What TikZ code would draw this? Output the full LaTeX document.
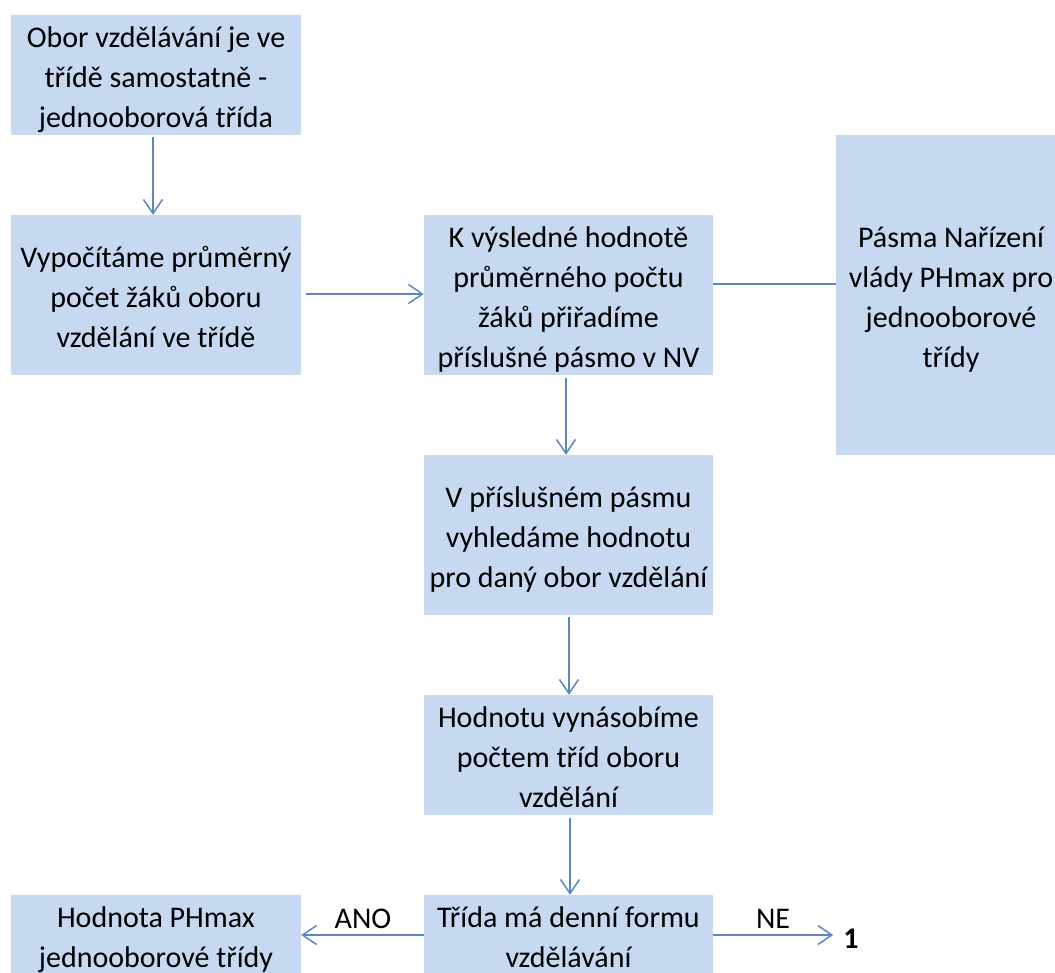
\documentclass[tikz,border=0pt]{standalone}
\usepackage{fontspec}
\setmainfont{Carlito}
\usetikzlibrary{arrows.meta}
\definecolor{boxfill}{HTML}{C6D9F1}
\definecolor{arrowc}{HTML}{5B87C5}
\newcommand\ls{\rule[-8pt]{0pt}{40pt}}
\begin{document}
\begin{tikzpicture}[x=1pt,y=-1pt,
  box/.style={fill=boxfill, draw=none, inner sep=0pt, align=center,
    font=\fontsize{30}{40}\selectfont, text=black},
  lbl/.style={inner sep=0pt, font=\fontsize{30}{40}\selectfont, text=black},
  conn/.style={draw=arrowc, line width=1.5pt},
  arr/.style={conn, -{Straight Barb[length=14pt,width=19pt]}}
]
\useasboundingbox (0,0) rectangle (1055,972);
\clip (0,0) rectangle (1055,972);

\node[box, minimum width=290pt, minimum height=120pt] (b1) at (156,75)
  {\ls Obor vzdělávání je ve\\ třídě samostatně -\\ jednooborová třída\ls};
\node[box, minimum width=290pt, minimum height=160pt] (b2) at (156,295)
  {\ls Vypočítáme průměrný\\ počet žáků oboru\\ vzdělání ve třídě\ls};
\node[box, minimum width=289pt, minimum height=160pt] (b3) at (568.5,295)
  {\ls K výsledné hodnotě\\ průměrného počtu\\ žáků přiřadíme\\ příslušné pásmo v NV\ls};
\node[box, minimum width=230pt, minimum height=320pt] (b4) at (951,295)
  {\ls Pásma Nařízení\\ vlády PHmax pro\\ jednooborové\\ třídy\ls};
\node[box, minimum width=289pt, minimum height=160pt] (b5) at (568.5,535)
  {\ls V příslušném pásmu\\ vyhledáme hodnotu\\ pro daný obor vzdělání\ls};
\node[box, minimum width=289pt, minimum height=120pt] (b6) at (568.5,755)
  {\ls Hodnotu vynásobíme\\ počtem tříd oboru\\ vzdělání\ls};
\node[box, minimum width=289pt, minimum height=80pt] (b7) at (568.5,935)
  {\ls Třída má denní formu\\ vzdělávání\ls};
\node[box, minimum width=290pt, minimum height=80pt] (b8) at (156,935)
  {\ls Hodnota PHmax\\ jednooborové třídy\ls};

\node[lbl] (ano) at (363,919) {ANO};
\node[lbl] (ne) at (773,919) {NE};
\node[lbl, font=\fontsize{30}{40}\selectfont\bfseries] (one) at (851,939) {1};

\draw[arr, shorten <=2pt] ([xshift=-3pt]b1.south) -- ([xshift=-3pt]b2.north);
\draw[arr, shorten <=5pt] ([yshift=1pt]b2.east) -- ([yshift=1pt]b3.west);
\draw[conn] ([yshift=11pt]b3.east) -- ([yshift=11pt]b3.east -| b4.west);
\draw[arr, shorten <=3pt] ([xshift=-2.5pt]b3.south) -- ([xshift=-2.5pt]b5.north);
\draw[arr, shorten <=2pt] ([xshift=0.5pt]b5.south) -- ([xshift=0.5pt]b6.north);
\draw[arr, shorten <=3pt] ([xshift=1.5pt]b6.south) -- ([xshift=1.5pt]b7.north);
\draw[arr] (b7.west) -- (b8.east);
\draw[arr, shorten >=10pt] (b7.east) -- (b7.east -| one.west);
\end{tikzpicture}
\end{document}
